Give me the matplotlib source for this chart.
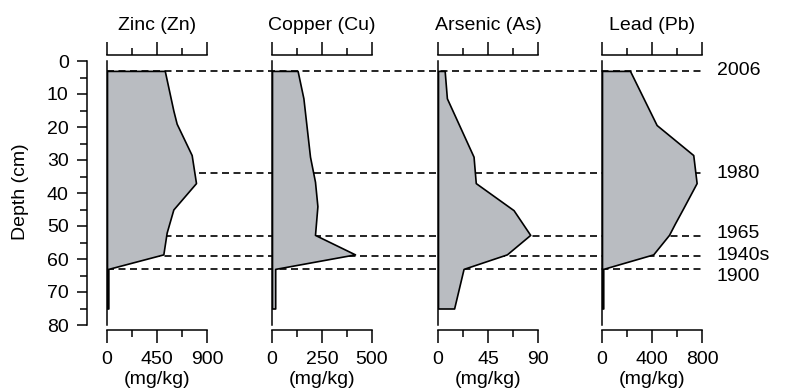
import matplotlib
matplotlib.use('Agg')
from matplotlib import pyplot as plt
import numpy as np

plt.rcParams['font.family'] = ['Liberation Sans', 'DejaVu Sans']

# sediment core data (depth in cm, concentration in mg/kg)
zn_depth = [3, 15, 19, 28.5, 37, 45, 52, 58.6, 63, 75]
zn_conc = [520, 597, 627, 762, 801, 597, 537, 507, 12, 12]

cu_depth = [3, 11.3, 29, 36.6, 44, 52.7, 58.6, 63, 75]
cu_conc = [128, 157, 190, 215, 227, 215, 415, 16, 16]

as_depth = [3, 11.3, 29, 37, 45.2, 52.7, 58.6, 63, 75]
as_conc = [6, 8, 32, 34, 68, 83, 62, 23, 14.5]

pb_depth = [3, 19.4, 28.5, 37, 44.6, 49.2, 52.7, 58.6, 63, 75]
pb_conc = [224, 437, 730, 757, 650, 584, 536, 410, 10, 10]

titles = ['Zinc (Zn)', 'Copper (Cu)', 'Arsenic (As)', 'Lead (Pb)']
xmax = [900, 500, 90, 800]
xticks = [[0, 450, 900], [0, 250, 500], [0, 45, 90], [0, 400, 800]]

years = ['2006', '1980', '1965', '1940s', '1900']
year_depth = [3, 34, 53, 59, 63]
# small vertical nudges (in cm) so the close labels don't collide
year_shift = [0, 0, -0.7, 0, 2.2]

W, H = 787, 392
fig = plt.figure(figsize=(W / 100, H / 100), dpi=100)

top_px, bot_px = 61, 325
def rect(x0, x1):
    return [x0 / W, 1 - bot_px / H, (x1 - x0) / W, (bot_px - top_px) / H]

fill_col = '#b9bcc1'
fs = 14

# dashed date lines behind panels
bg = fig.add_axes(rect(107, 702))
bg.set_xlim(0, 1)
bg.set_ylim(80, 0)
bg.axis('off')
for yr, d, sh in zip(years, year_depth, year_shift):
    bg.plot([0, 1], [d, d], color='black', lw=1.2, ls=(0, (4.2, 2.7)))
    bg.text(1.025, d + sh, yr, ha='left', va='center', fontsize=fs)

# depth axis
dax = fig.add_axes(rect(87, 88))
dax.set_ylim(80, 0)
dax.set_xticks([])
for s in ['top', 'right', 'bottom']:
    dax.spines[s].set_visible(False)
dax.patch.set_alpha(0)
dax.spines['left'].set_linewidth(1.1)
dax.set_yticks(np.arange(0, 81, 10))
dax.set_yticks(np.arange(5, 80, 10), minor=True)
dax.tick_params(axis='y', which='major', length=7.2, width=1.1, labelsize=fs, pad=6)
dax.tick_params(axis='y', which='minor', length=5, width=1.1)
fig.text(21 / W, 1 - 192 / H, 'Depth (cm)', rotation=90, ha='center', va='center', fontsize=fs)

lefts = [107, 272, 438, 602]
data = [(zn_depth, zn_conc), (cu_depth, cu_conc), (as_depth, as_conc), (pb_depth, pb_conc)]

for i in range(4):
    ax = fig.add_axes(rect(lefts[i], lefts[i] + 100))
    ax.patch.set_alpha(0)
    dep, conc = data[i]
    ax.fill_betweenx(dep, 0, conc, facecolor=fill_col, edgecolor='black', lw=1.2)
    ax.set_xlim(0, xmax[i])
    ax.set_ylim(80, 0)
    ax.set_yticks([])
    ax.spines['right'].set_visible(False)
    ax.spines['left'].set_linewidth(1.1)
    ax.spines['top'].set_position(('outward', 4.3))
    ax.spines['bottom'].set_position(('outward', 3.6))
    ax.spines['top'].set_linewidth(1.1)
    ax.spines['bottom'].set_linewidth(1.1)
    ax.xaxis.set_ticks_position('both')
    ax.set_xticks(xticks[i])
    ax.set_xticks([xmax[i] / 4, xmax[i] * 3 / 4], minor=True)
    ax.tick_params(axis='x', which='major', direction='out', length=9.4, width=1.1,
                   labelsize=fs, pad=6, top=True, labeltop=False)
    ax.tick_params(axis='x', which='minor', direction='out', length=5, width=1.1, top=True)
    ax.text(0.5, 1.117, titles[i], transform=ax.transAxes, ha='center', va='baseline', fontsize=fs)
    ax.text(0.5, -0.222, '(mg/kg)', transform=ax.transAxes, ha='center', va='baseline', fontsize=fs)

fig.savefig('out.png', dpi=100)
